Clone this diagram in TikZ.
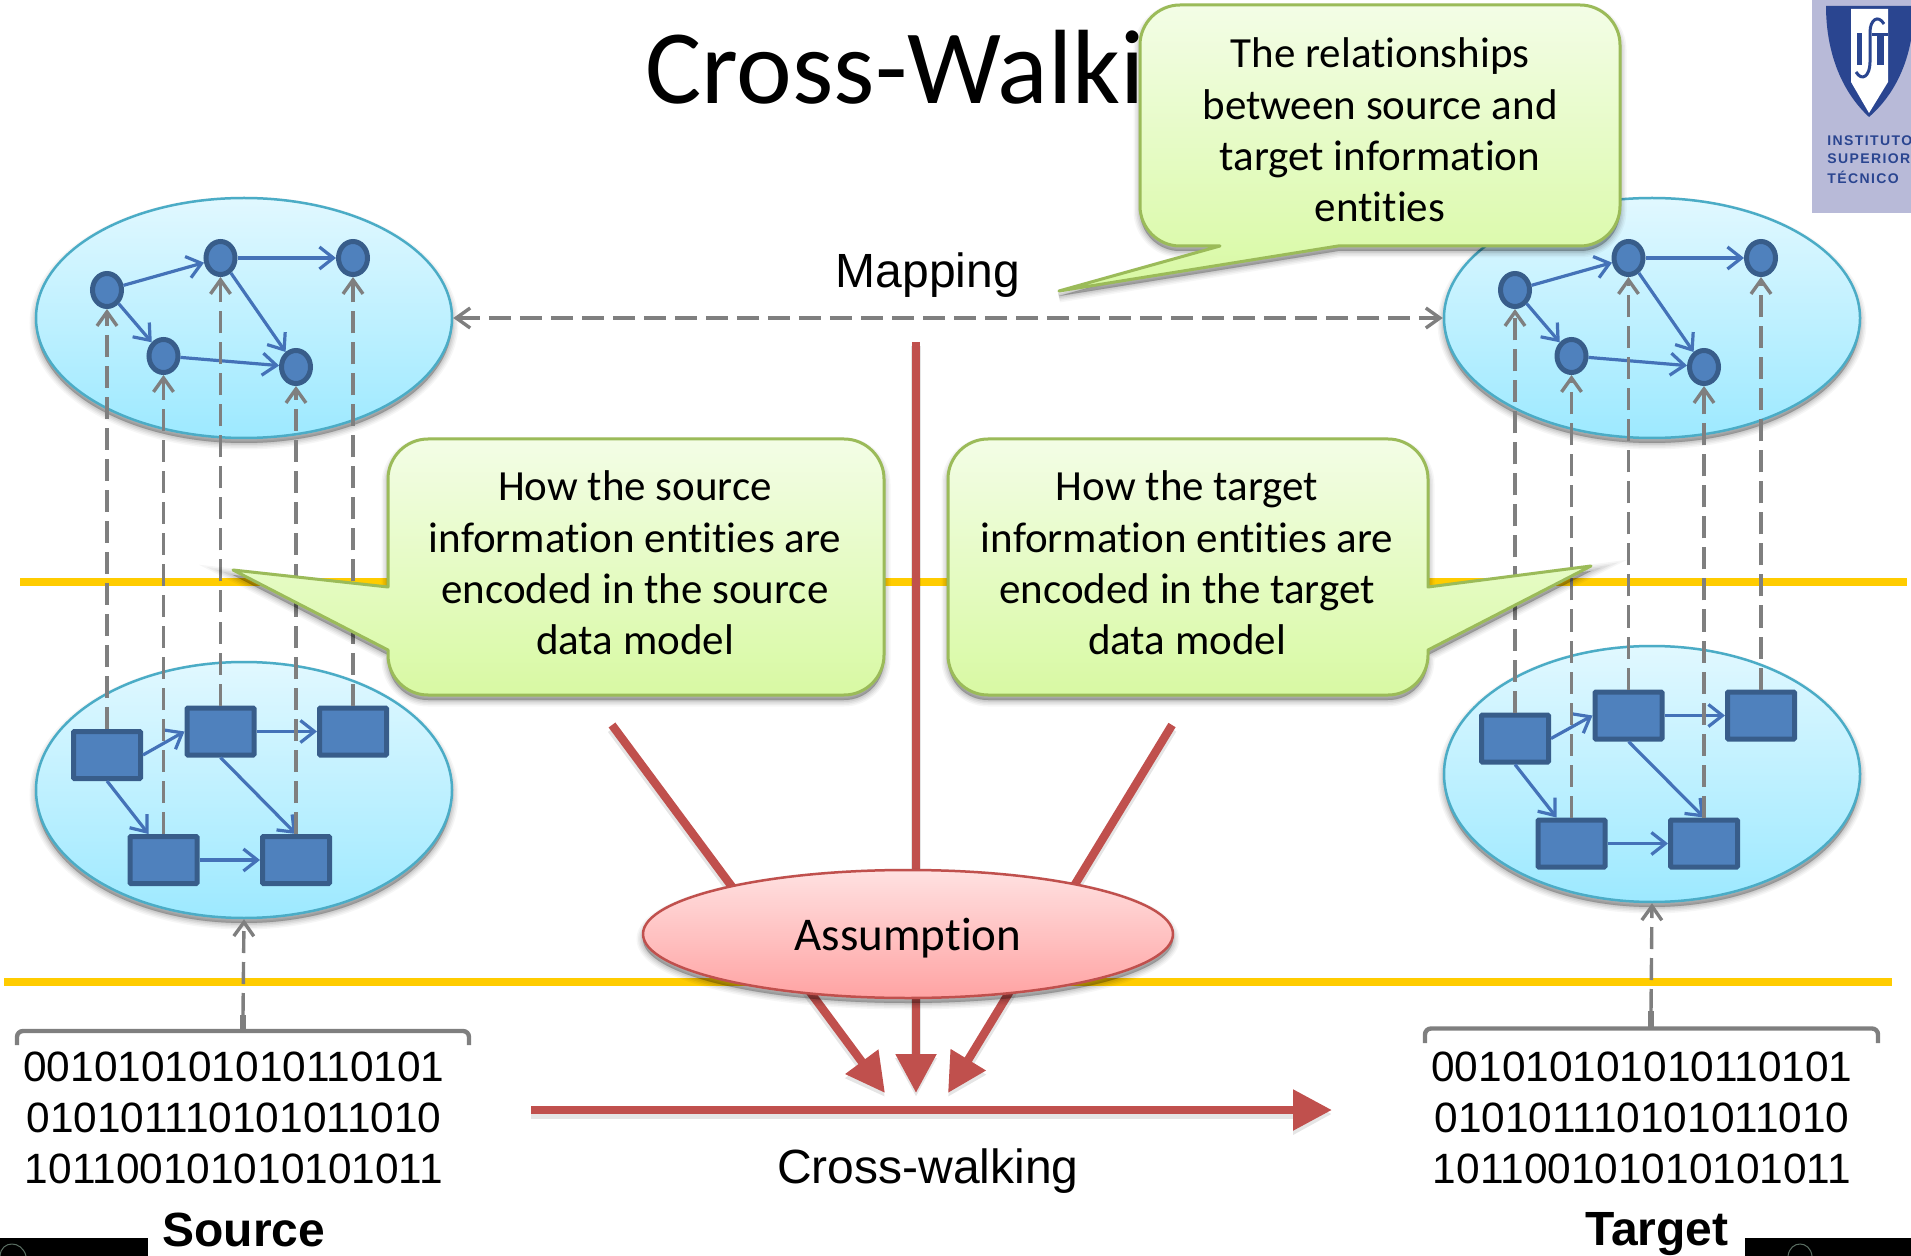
\documentclass[tikz,border=0pt]{standalone}
\usepackage{fontspec}
\setmainfont[Ligatures=NoCommon]{Carlito}
\newfontfamily\arialfont{Liberation Sans}
\newfontfamily\logofont[LetterSpace=10]{Liberation Sans}
\usetikzlibrary{shapes.geometric,arrows.meta,calc}
\definecolor{dashgray}{HTML}{7F7F7F}
\definecolor{nodefill}{HTML}{4F81BD}
\definecolor{nodeline}{HTML}{385D8A}
\definecolor{edgeblue}{HTML}{4472B8}
\definecolor{oilblue}{HTML}{4BACC6}
\definecolor{calloutline}{HTML}{9BBB59}
\definecolor{redline}{HTML}{C0504D}
\definecolor{ruleyellow}{HTML}{FFCC00}
\definecolor{logobg}{HTML}{B8BAD8}
\definecolor{logoblue}{HTML}{2A4590}
\definecolor{realmtop}{HTML}{E1F8FF}
\definecolor{realmbot}{HTML}{9DE9FF}
\definecolor{greentop}{HTML}{F3FDE6}
\definecolor{greenbot}{HTML}{D8F9A3}
\definecolor{pinktop}{HTML}{FFE1E1}
\definecolor{pinkbot}{HTML}{FFA3A3}
\definecolor{arcgray}{HTML}{5A6E62}
\tikzset{
  softshadow/.style={
    preaction={fill=black,draw=black,opacity=.035,line width=6.5pt,transform canvas={yshift=-2.5pt}},
    preaction={fill=black,draw=black,opacity=.045,line width=5pt,transform canvas={yshift=-2.5pt}},
    preaction={fill=black,draw=black,opacity=.055,line width=3.5pt,transform canvas={yshift=-2.5pt}},
    preaction={fill=black,draw=black,opacity=.065,line width=2pt,transform canvas={yshift=-2.5pt}},
    preaction={fill=black,draw=black,opacity=.08,line width=.5pt,transform canvas={yshift=-2.5pt}}},
  realm/.style={ellipse,draw=oilblue,line width=1.25pt,top color=realmtop,bottom color=realmbot,
    minimum width=208pt,inner sep=0pt,softshadow},
  entity/.style={ellipse,draw=nodeline,fill=nodefill,line width=2.5pt,minimum width=14.5pt,minimum height=16.5pt,inner sep=0pt},
  record/.style={rectangle,draw=nodeline,fill=nodefill,line width=2.5pt,minimum width=33.5pt,minimum height=23.5pt,inner sep=0pt,rounded corners=.5pt},
  edge/.style={draw=edgeblue,line width=1.6pt,-{Straight Barb[length=7pt,width=11pt]}},
  link/.style={draw=dashgray,line width=1.7pt,dash pattern=on 11pt off 4.5pt,-{Straight Barb[length=7pt,width=10pt]}},
  rulebar/.style={draw=ruleyellow,line width=4pt},
  bracket/.style={draw=dashgray,line width=2.2pt,rounded corners=3pt},
  flow/.style={draw=redline,line width=4.2pt,-{Triangle[length=19.5pt,width=19.5pt]},
    preaction={draw=black,opacity=.10,line width=5pt,transform canvas={yshift=-2pt}}},
  callout/.style={draw=calloutline,line width=1.5pt,line join=round,top color=greentop,bottom color=greenbot,softshadow},
  callouttext/.style={font=\fontsize{21.5}{25.7}\selectfont,align=center,inner sep=0pt},
  sanslabel/.style={font=\arialfont\fontsize{24}{28}\selectfont,inner sep=0pt},
  sansbold/.style={font=\arialfont\bfseries\fontsize{24}{28}\selectfont,inner sep=0pt},
  binary/.style={font=\arialfont\fontsize{21.2}{25.5}\selectfont,align=center,inner sep=0pt},
}
\newcommand{\graphedges}{%
  \draw[edge] (c1) -- (c2);
  \draw[edge] (c1) -- (c4);
  \draw[edge] (c2) -- (c3);
  \draw[edge] (c2) -- (c5);
  \draw[edge] (c4) -- (c5);
  \draw[edge] (r1.east) -- (r2.west);
  \draw[edge] (r1.south) -- ($(r4.north)+(-15,0)$);
  \draw[edge] (r2.east) -- (r3.west);
  \draw[edge] (r2.south) -- (r5.north);
  \draw[edge] (r4.east) -- (r5.west);
}
\begin{document}
\begin{tikzpicture}[x=.5pt,y=-.5pt]
\useasboundingbox (0,0) rectangle (1911,1256);

% title
\node[anchor=base west,inner sep=0pt,font=\fontsize{52.8}{60}\selectfont] (title) at (645,104) {Cross-Walki};

% logo
\begin{scope}
\clip (1812,0) rectangle (1911,213);
\fill[logobg] (1812,0) rectangle (1911,213);
\fill[logoblue] (1826,6) -- (1914,6) .. controls (1914,50) and (1900,90) .. (1869,117) .. controls (1840,90) and (1826,50) .. (1826,6) -- cycle;
\fill[white] (1851,9) -- (1888,9) -- (1888,82) -- (1869,113) -- (1851,82) -- cycle;
\fill[logoblue] (1857,33) rectangle (1862,65);
\fill[logoblue] (1877,33) rectangle (1884,65);
\fill[logoblue] (1872,33) rectangle (1888,36);
\draw[logoblue,line width=1.5pt] (1884,24) .. controls (1878,14) and (1870,20) .. (1870,32) -- (1870,62) .. controls (1870,76) and (1862,82) .. (1856,72);
\node[anchor=west,inner sep=0pt,text=logoblue,font=\logofont\bfseries\fontsize{7}{8}\selectfont] (logo1) at (1827,141) {INSTITUTO};
\node[anchor=west,inner sep=0pt,text=logoblue,font=\logofont\bfseries\fontsize{7}{8}\selectfont] (logo2) at (1827,159) {SUPERIOR};
\node[anchor=west,inner sep=0pt,text=logoblue,font=\logofont\bfseries\fontsize{7}{8}\selectfont] (logo3) at (1827,177) {TÉCNICO};
\end{scope}

% rules
\coordinate (ruleAl) at (20,582);
\coordinate (ruleAr) at (1907,582);
\coordinate (ruleBl) at (4,982);
\coordinate (ruleBr) at (1892,982);
\draw[rulebar] (ruleAl) -- (ruleAr);
\draw[rulebar] (ruleBl) -- (ruleBr);

% left graphs
\begin{scope}[name prefix=L-]
\node[realm,minimum height=120pt] (top) at (244,318) {};
\node[realm,minimum height=128pt] (low) at (244,790) {};
\node[entity] (c1) at (107,290) {};
\node[entity] (c2) at (220.5,258) {};
\node[entity] (c3) at (353,258) {};
\node[entity] (c4) at (163.5,356) {};
\node[entity] (c5) at (296,367) {};
\node[record] (r1) at (107,755) {};
\node[record] (r2) at (220.5,731.5) {};
\node[record] (r3) at (353,731.5) {};
\node[record] (r4) at (163.5,860) {};
\node[record] (r5) at (296,860) {};
\graphedges
\end{scope}

% right graphs
\begin{scope}[name prefix=R-,shift={(1408,0)}]
\node[realm,minimum height=120pt] (top) at (244,318) {};
\node[realm,minimum height=128pt] (low) at (244,774) {};
\node[entity] (c1) at (107,290) {};
\node[entity] (c2) at (220.5,258) {};
\node[entity] (c3) at (353,258) {};
\node[entity] (c4) at (163.5,356) {};
\node[entity] (c5) at (296,367) {};
\node[record] (r1) at (107,738.5) {};
\node[record] (r2) at (220.5,715.5) {};
\node[record] (r3) at (353,715.5) {};
\node[record] (r4) at (163.5,843.5) {};
\node[record] (r5) at (296,843.5) {};
\graphedges
\end{scope}

% vertical links
\foreach \s in {L,R}{
  \foreach \i in {1,...,5}{
    \draw[link] (\s-r\i.north) -- (\s-c\i.south);
  }
}
% mapping
\draw[link,{Straight Barb[length=7pt,width=10pt]}-{Straight Barb[length=7pt,width=10pt]}] (L-top.east) -- (R-top.west);
\node[sanslabel] (mapping) at (928,275) {Mapping};

% brackets
\coordinate (LbL) at (17,1045); \coordinate (LbC) at (17,1031); \coordinate (LbD) at (469,1031); \coordinate (LbR) at (469,1045);
\coordinate (RbL) at (1425,1043); \coordinate (RbC) at (1425,1028.5); \coordinate (RbD) at (1878,1028.5); \coordinate (RbR) at (1878,1043);
\coordinate (Lnub) at (243,1015); \coordinate (Lnubb) at (243,1031);
\coordinate (Rnub) at (1651,1011); \coordinate (Rnubb) at (1651,1028.5);
\draw[bracket] (LbL) -- (LbC) -- (LbD) -- (LbR);
\draw[bracket] (RbL) -- (RbC) -- (RbD) -- (RbR);
\draw[dashgray,line width=2.6pt] (Lnub) -- (Lnubb);
\draw[dashgray,line width=2.6pt] (Rnub) -- (Rnubb);
\draw[link] (Lnub) -- (L-low.south);
\draw[link] (Rnub) -- (R-low.south);

% binary
\node[binary] (binL) at (234,1117.5) {001010101010110101\\010101110101011010\\101100101010101011};
\node[binary] (binR) at (1642,1117.5) {001010101010110101\\010101110101011010\\101100101010101011};
\node[sansbold] (source) at (244,1230) {Source};
\node[sansbold] (target) at (1657,1234) {Target};

% black bars
\fill[black] (0,1238) rectangle (148,1256);
\fill[black] (1745,1238) rectangle (1911,1256);
\draw[arcgray,line width=.5pt] (0,1256) .. controls (1,1240) and (22,1240) .. (26,1256);
\draw[arcgray,line width=.5pt] (1788,1256) .. controls (1790,1240) and (1810,1240) .. (1812,1256);

% red flows
\coordinate (fA) at (612,725); \coordinate (fAt) at (885,1093);
\coordinate (fB) at (916,342); \coordinate (fBt) at (916,1093);
\coordinate (fC) at (1172,725); \coordinate (fCt) at (948,1093);
\coordinate (cwA) at (531,1110); \coordinate (cwB) at (1332,1110);
\draw[flow] (fA) -- (fAt);
\draw[flow] (fB) -- (fBt);
\draw[flow] (fC) -- (fCt);
\draw[flow] (cwA) -- (cwB);
\node[sanslabel] (crosswalk) at (928,1171) {Cross-walking};

% assumption
\node[ellipse,draw=redline,line width=1.25pt,top color=pinktop,bottom color=pinkbot,minimum width=265pt,minimum height=64pt,inner sep=0pt,softshadow] (assumption) at (908,934) {};
\node[font=\fontsize{23.5}{28}\selectfont,inner sep=0pt] (assumptiontext) at (908,938) {Assumption};

% callouts
\path[callout] (1180,5) -- (1580,5) .. controls (1602,5) and (1620,23) .. (1620,45) -- (1620,206) .. controls (1620,228) and (1602,246) .. (1580,246) -- (1338,246) -- (1059,291) -- (1220,246) -- (1180,246) .. controls (1158,246) and (1140,228) .. (1140,206) -- (1140,45) .. controls (1140,23) and (1158,5) .. (1180,5) -- cycle;
\node[callouttext] (calloutTop) at (1380,130) {The relationships\\between source and\\target information\\entities};

\path[callout] (428,439) -- (844,439) .. controls (866,439) and (884,457) .. (884,479) -- (884,655) .. controls (884,677) and (866,695) .. (844,695) -- (428,695) .. controls (406,695) and (388,677) .. (388,655) -- (388,650) -- (233,570) -- (388,587) -- (388,479) .. controls (388,457) and (406,439) .. (428,439) -- cycle;
\node[callouttext] (calloutL) at (635,563) {How the source\\information entities are\\encoded in the source\\data model};

\path[callout] (988,439) -- (1388,439) .. controls (1410,439) and (1428,457) .. (1428,479) -- (1428,587) -- (1591,566) -- (1428,650) -- (1428,655) .. controls (1428,677) and (1410,695) .. (1388,695) -- (988,695) .. controls (966,695) and (948,677) .. (948,655) -- (948,479) .. controls (948,457) and (966,439) .. (988,439) -- cycle;
\node[callouttext] (calloutR) at (1187,563) {How the target\\information entities are\\encoded in the target\\data model};
\end{tikzpicture}
\end{document}
